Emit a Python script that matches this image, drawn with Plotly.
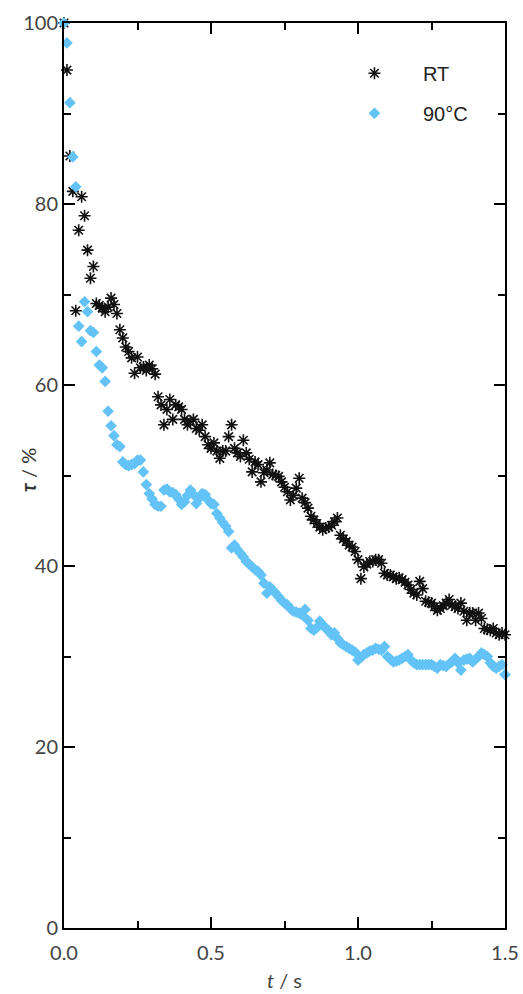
import plotly.graph_objects as go

# Sampling of the transmission traces
T_START = 0.0      # s
T_STEP = 0.01      # s

# Transmission (%) measured at room temperature
rt_tau = [
    100.0, 94.8, 85.3, 81.4, 68.2, 77.1, 80.8, 78.7, 74.9, 71.8,
    73.1, 69.0, 68.8, 68.5, 68.1, 68.6, 69.6, 68.9, 67.9, 66.1,
    65.2, 64.2, 63.7, 63.0, 61.3, 63.1, 61.9, 62.0, 61.6, 62.2,
    61.8, 61.2, 58.7, 57.8, 55.6, 57.3, 58.4, 56.2, 57.8, 57.6,
    57.3, 56.2, 55.6, 56.0, 56.2, 55.2, 55.0, 55.6, 54.3, 53.4,
    53.0, 53.6, 52.7, 51.9, 52.7, 52.7, 54.3, 55.6, 53.0, 52.5,
    52.1, 53.9, 52.5, 51.8, 50.4, 51.5, 51.2, 49.3, 50.3, 50.6,
    51.4, 50.1, 50.0, 49.9, 49.3, 48.7, 48.2, 47.3, 47.8, 48.6,
    49.7, 47.5, 47.0, 46.4, 45.5, 45.1, 44.7, 44.3, 44.0, 44.2,
    44.3, 44.5, 44.9, 45.3, 43.4, 43.0, 42.7, 42.3, 42.1, 41.6,
    40.7, 38.6, 39.9, 40.2, 40.5, 40.5, 40.7, 40.7, 40.3, 39.2,
    39.0, 39.0, 38.8, 38.6, 38.7, 38.5, 38.2, 37.9, 37.4, 37.0,
    36.8, 38.3, 37.5, 36.1, 36.0, 35.9, 35.5, 35.1, 35.3, 35.6,
    35.9, 36.3, 35.7, 35.5, 35.3, 35.9, 35.0, 34.0, 34.8, 34.8,
    34.0, 34.8, 34.2, 33.1, 33.0, 32.9, 33.1, 32.6, 32.4, 32.6,
    32.4,
]

# Transmission (%) measured at 90 °C
hot_tau = [
    100.0, 97.8, 91.2, 85.2, 81.9, 66.5, 64.8, 69.2, 68.1, 66.0,
    65.8, 63.7, 62.2, 61.9, 60.4, 57.1, 55.5, 54.4, 53.4, 53.2,
    51.5, 51.2, 51.1, 51.2, 51.3, 51.7, 51.7, 50.4, 49.0, 48.0,
    47.4, 46.8, 46.6, 46.6, 48.4, 48.5, 48.2, 48.1, 47.9, 47.4,
    46.8, 47.1, 47.8, 48.4, 47.9, 46.9, 47.5, 48.0, 47.9, 47.3,
    46.9, 46.8, 45.8, 45.3, 44.8, 44.4, 43.8, 42.0, 42.3, 41.8,
    41.4, 41.0, 40.5, 40.2, 39.9, 39.6, 39.4, 39.0, 38.1, 37.0,
    37.7, 37.3, 37.0, 36.6, 36.2, 35.9, 35.7, 35.3, 35.0, 34.9,
    34.8, 34.6, 35.2, 34.0, 33.1, 32.9, 33.2, 33.9, 33.5, 33.1,
    32.9, 32.4, 32.6, 32.0, 31.5, 31.3, 31.1, 30.9, 30.7, 30.5,
    29.6, 29.9, 30.2, 30.4, 30.6, 30.7, 30.9, 30.8, 30.7, 31.1,
    30.0, 29.7, 29.4, 29.5, 29.6, 29.8, 30.0, 30.2, 29.6, 29.3,
    29.1, 29.1, 29.1, 29.1, 29.1, 29.1, 28.9, 28.7, 29.1, 29.0,
    28.9, 29.2, 29.4, 29.8, 29.3, 28.5, 29.6, 29.7, 29.8, 29.4,
    29.7, 30.0, 30.4, 30.2, 30.0, 29.3, 28.9, 28.7, 28.9, 29.1,
    28.0,
]

series_names = ["RT", "90°C"]
x_tick_vals = [0.0, 0.5, 1.0, 1.5]
x_tick_text = ["0.0", "0.5", "1.0", "1.5"]
y_tick_vals = [0, 20, 40, 60, 80, 100]

fig = go.Figure()

fig.add_trace(go.Scatter(
    y=rt_tau, x0=T_START, dx=T_STEP,
    mode="markers", name=series_names[0], legendgroup="rt", cliponaxis=False,
    marker=dict(symbol="asterisk-open", size=10, color="#111111",
                line=dict(color="#111111", width=1.6)),
))
fig.add_trace(go.Scatter(
    y=hot_tau, x0=T_START, dx=T_STEP,
    mode="markers", name=series_names[1], legendgroup="hot", cliponaxis=False,
    marker=dict(symbol="diamond", size=9, color="#63C3F6",
                line=dict(width=0)),
))

tick_font = dict(family="Lato", size=20, color="#444444")
axis_common = dict(
    showline=True, linecolor="black", linewidth=2, mirror="ticks",
    ticks="inside", ticklen=11, tickwidth=2, tickcolor="black",
    showgrid=False, zeroline=False, tickfont=tick_font, automargin=False,
)

fig.update_xaxes(
    range=[0, 1.5], tickvals=x_tick_vals, ticktext=x_tick_text,
    ticklabelstandoff=6,
    minor=dict(ticks="inside", ticklen=7, tickwidth=2, tickcolor="black",
               dtick=0.25, showgrid=False),
    **axis_common,
)
fig.update_yaxes(
    range=[0, 100], tickvals=y_tick_vals,
    minor=dict(ticks="inside", ticklen=7, tickwidth=2, tickcolor="black",
               dtick=10, showgrid=False),
    **axis_common,
)

# Axis titles
fig.add_annotation(
    text="<i>t</i> / s", xref="paper", yref="paper", x=0.5, y=-0.058,
    xanchor="center", yanchor="middle", showarrow=False,
    font=dict(family="Lato", size=20, color="#444444"),
)
fig.add_annotation(
    text="<b><i>τ</i></b> / %", xref="paper", yref="paper", x=-0.082, y=0.506,
    xanchor="center", yanchor="middle", textangle=-90, showarrow=False,
    font=dict(family="Lato", size=20, color="#333333"),
)

fig.update_layout(
    width=523, height=994,
    margin=dict(l=64, r=18, t=23, b=66),
    paper_bgcolor="white", plot_bgcolor="white",
    showlegend=True,
    legend=dict(x=0.594, y=0.966, xanchor="left", yanchor="top",
                bgcolor="rgba(0,0,0,0)",
                font=dict(family="Liberation Sans", size=20, color="#222222"),
                tracegroupgap=11, itemwidth=87),
)

fig.write_html("out.html")
